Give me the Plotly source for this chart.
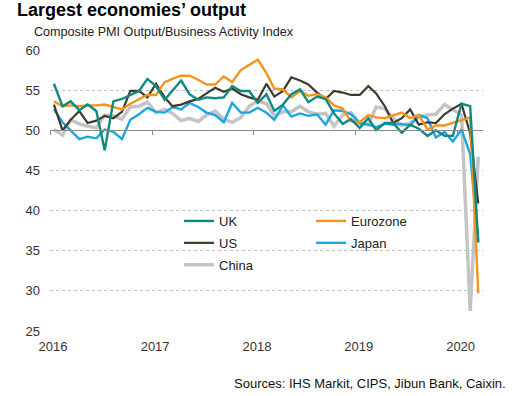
import plotly.graph_objects as go
import pandas as pd

# monthly observations, plotted mid-month
months = (pd.date_range("2016-01-01", "2020-03-01", freq="MS") + pd.Timedelta(days=14)).strftime("%Y-%m-%d").tolist()

uk = [55.8, 53.0, 53.6, 52.5, 53.2, 52.4, 47.5, 53.6, 53.9, 54.4, 54.9, 56.4,
      55.5, 53.8, 54.9, 56.2, 54.5, 53.8, 54.1, 54.0, 54.1, 55.5, 54.9, 54.9,
      53.4, 54.5, 52.4, 53.2, 54.5, 55.1, 53.5, 54.2, 53.9, 52.1, 50.8, 51.4,
      50.3, 51.5, 50.0, 50.9, 50.9, 49.7, 50.7, 50.2, 49.3, 50.0, 49.3, 49.3,
      53.3, 53.0, 36.0]
eurozone = [53.6, 53.0, 53.1, 53.0, 53.1, 53.1, 53.2, 52.9, 52.6, 53.3, 53.9, 54.4,
            54.4, 56.0, 56.4, 56.8, 56.8, 56.3, 55.7, 55.7, 56.7, 56.0, 57.5, 58.1,
            58.8, 57.1, 55.2, 55.1, 54.1, 54.9, 54.3, 54.5, 54.1, 53.1, 52.7, 51.1,
            51.0, 51.9, 51.6, 51.5, 51.8, 52.2, 51.5, 51.9, 50.1, 50.6, 50.6, 50.9,
            51.3, 51.6, 29.7]
us = [53.2, 50.0, 51.3, 52.4, 50.9, 51.2, 51.8, 51.5, 52.3, 54.9, 54.9, 54.1,
      55.8, 54.1, 53.0, 53.2, 53.6, 53.9, 54.6, 55.3, 54.8, 55.2, 54.5, 54.1,
      53.8, 55.8, 54.2, 54.9, 56.6, 56.2, 55.7, 54.7, 53.9, 54.9, 54.7, 54.4,
      54.4, 55.5, 54.6, 53.0, 50.9, 51.5, 52.6, 50.7, 51.0, 50.9, 52.0, 52.7,
      53.3, 49.6, 40.9]
japan = [52.6, 51.0, 50.0, 48.9, 49.2, 49.0, 50.1, 49.8, 48.9, 51.3, 52.0, 52.8,
         52.3, 52.2, 52.9, 52.6, 53.4, 52.9, 52.2, 51.9, 51.0, 53.4, 52.2, 52.2,
         52.8, 52.2, 51.3, 53.1, 51.7, 52.1, 51.8, 52.0, 50.7, 52.5, 52.4, 52.0,
         50.9, 50.7, 50.4, 50.8, 50.7, 50.8, 50.6, 51.9, 51.5, 49.1, 49.8, 48.6,
         50.1, 47.0, 36.2]
china = [50.1, 49.4, 51.3, 50.8, 50.5, 50.3, 51.9, 51.8, 51.4, 52.9, 53.0, 53.5,
         52.2, 52.6, 52.1, 51.2, 51.5, 51.1, 51.9, 52.4, 51.4, 51.0, 51.6, 53.0,
         53.7, 53.3, 51.8, 52.3, 52.3, 53.0, 52.3, 52.0, 52.1, 50.5, 51.9, 52.2,
         50.9, 50.7, 52.9, 52.7, 51.5, 50.6, 50.9, 51.6, 51.9, 52.0, 53.2, 52.6,
         51.9, 27.5, 46.7]

year_ticks = ["2016-01-01", "2017-01-01", "2018-01-01", "2019-01-01", "2020-01-01"]
year_labels = ["2016", "2017", "2018", "2019", "2020"]
y_ticks = [25, 30, 35, 40, 45, 50, 55, 60]

FONT = "Arial, Liberation Sans, sans-serif"
xrange = ["2016-01-01", "2020-04-01"]

fig = go.Figure()
series = [
    ("China", china, "#c4c4c4", 3.5, "legend"),
    ("Japan", japan, "#1aa7df", 2.4, "legend2"),
    ("US", us, "#3d3b2a", 2.2, "legend"),
    ("Eurozone", eurozone, "#f5931e", 2.4, "legend2"),
    ("UK", uk, "#0e8a7e", 2.4, "legend"),
]
rank = {"UK": 1, "US": 2, "China": 3, "Eurozone": 1, "Japan": 2}
for name, vals, col, w, lg in series:
    fig.add_trace(go.Scatter(
        x=months, y=vals, name=name, mode="lines",
        line=dict(color=col, width=w),
        legend=lg, legendgroup=name, legendrank=rank[name],
    ))

fig.update_layout(
    width=523, height=396,
    margin=dict(l=50, r=40, t=50, b=65, autoexpand=False),
    plot_bgcolor="white", paper_bgcolor="white",
    font=dict(family=FONT, size=13, color="#333333"),
    showlegend=True,
    title=dict(text="<b>Largest economies’ output</b>", x=17/523, xanchor="left",
               y=1 - 10/396, yanchor="middle", yref="container",
               font=dict(family=FONT, size=18, color="#000000")),
    xaxis=dict(range=xrange, type="date", tickvals=year_ticks, ticktext=year_labels,
               showgrid=False, showline=False, ticks="", zeroline=False,
               ticklabelstandoff=6, ticklabelshift=3,
               automargin=False, tickfont=dict(size=13, color="#333333")),
    xaxis2=dict(range=xrange, type="date", overlaying="x", anchor="free",
                position=(50 - 25) / 35, side="bottom", tickvals=year_ticks,
                showticklabels=False, showgrid=False, showline=True,
                linecolor="#8c8c8c", linewidth=1, ticks="outside", ticklen=4,
                tickcolor="#8c8c8c", zeroline=False, automargin=False),
    yaxis=dict(range=[25, 60], tickvals=y_ticks, showgrid=True, gridcolor="#bdbdbd",
               griddash="dot", gridwidth=1, zeroline=False, showline=False, ticks="",
               ticklabelstandoff=9,
               automargin=False, tickfont=dict(size=13, color="#333333")),
    legend=dict(x=(184 - 50 - 5) / 433, y=(331 - 206) / 281, xanchor="left", yanchor="top",
                bgcolor="rgba(0,0,0,0)", font=dict(size=13, color="#222222"),
                tracegroupgap=2, itemwidth=30),
    legend2=dict(x=(316 - 50 - 5) / 433, y=(331 - 206) / 281, xanchor="left", yanchor="top",
                 bgcolor="rgba(0,0,0,0)", font=dict(size=13, color="#222222"),
                 tracegroupgap=2, itemwidth=30),
)

# invisible trace to activate xaxis2 (the axis line at 50)
fig.add_trace(go.Scatter(x=[xrange[0]], y=[None], xaxis="x2", showlegend=False,
                         hoverinfo="skip", mode="lines"))

fig.add_annotation(text="Composite PMI Output/Business Activity Index",
                   xref="paper", yref="paper", x=(32 - 50) / 433, y=1 + (50 - 32) / 281,
                   xanchor="left", yanchor="middle", showarrow=False,
                   font=dict(family=FONT, size=12.6, color="#222222"))
fig.add_annotation(text="Sources: IHS Markit, CIPS, Jibun Bank, Caixin.",
                   xref="paper", yref="paper", x=(508 - 50) / 433, y=(331 - 383) / 281,
                   xanchor="right", yanchor="middle", showarrow=False,
                   font=dict(family=FONT, size=13, color="#111111"))

fig.write_html("out.html", config={"displayModeBar": False},
               post_script="document.body.style.margin='0';document.body.style.overflow='hidden';")
